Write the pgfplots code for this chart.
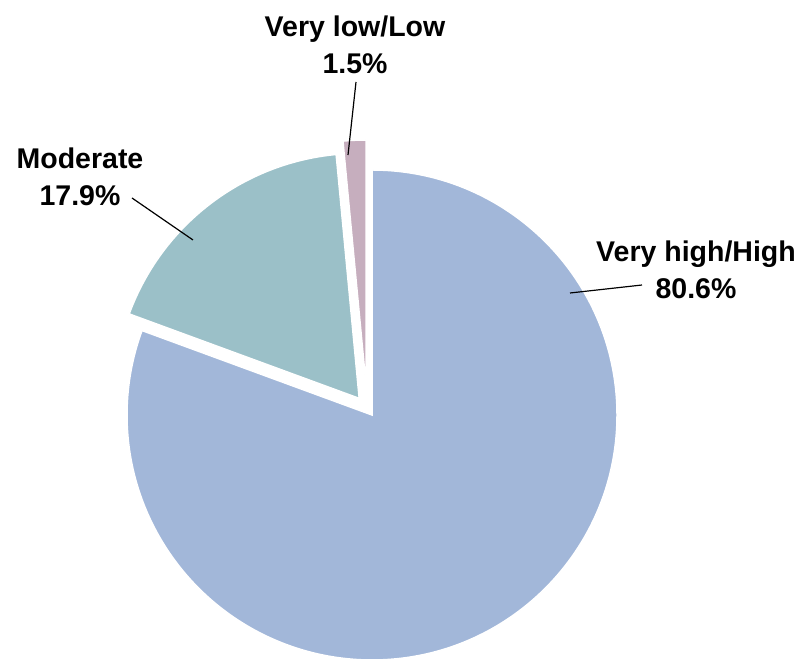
\documentclass[border=0pt]{standalone}
\usepackage{pgfplots}
\usepackage{pgfplotstable}
\pgfplotsset{compat=1.18}
\usepackage{fontspec}
\setmainfont{Liberation Sans}
\definecolor{cHigh}{HTML}{A2B7D9}
\definecolor{cMod}{HTML}{9BC0C8}
\definecolor{cLow}{HTML}{C6AEBE}

\pgfplotstableread{
label value
High 80.6
Moderate 17.9
Low 1.5
}\piedata

\begin{document}
\begin{tikzpicture}
\pgfplotstablegetelem{0}{value}\of\piedata \edef\vA{\pgfplotsretval}
\pgfplotstablegetelem{1}{value}\of\piedata \edef\vB{\pgfplotsretval}
\pgfplotstablegetelem{2}{value}\of\piedata \edef\vC{\pgfplotsretval}
\pgfmathsetmacro{\sA}{90}
\pgfmathsetmacro{\eA}{\sA-3.6*\vA}
\pgfmathsetmacro{\eB}{\eA-3.6*\vB}
\pgfmathsetmacro{\eC}{\eB-3.6*\vC}
\pgfmathsetmacro{\mB}{(\eA+\eB)/2}
\begin{axis}[hide axis, x=1pt, y=1pt, xmin=0, xmax=805, ymin=0, ymax=663,
  scale only axis, clip=false]
% Very high/High
\filldraw[fill=cHigh, draw=white, line width=1.5pt]
  (axis cs:372,248) -- ++(\sA:245pt) arc[start angle=\sA, end angle=\eA, radius=245pt] -- cycle;
% Moderate (exploded)
\filldraw[fill=cMod, draw=white, line width=1.5pt, shift={(\mB:21pt)}]
  (axis cs:372,248) -- ++(\eA:245pt) arc[start angle=\eA, end angle=\eB, radius=245pt] -- cycle;
% Very low/Low (exploded)
\filldraw[fill=cLow, draw=white, line width=1.5pt, shift={(-6pt,30pt)}]
  (axis cs:372,248) -- ++(\eB:245pt) arc[start angle=\eB, end angle=\eC, radius=245pt] -- cycle;
% leader lines
\draw[black, line width=1.2pt] (axis cs:356,581) -- (axis cs:348,508);
\draw[black, line width=1.2pt] (axis cs:132,465) -- (axis cs:193,423);
\draw[black, line width=1.2pt] (axis cs:642,378) -- (axis cs:570,370);
% labels
\node[align=center, inner sep=0pt, font=\fontsize{28.5}{37}\selectfont\bfseries]
  at (axis cs:355,618) {Very low/Low\\1.5\%};
\node[align=center, inner sep=0pt, font=\fontsize{28.5}{37}\selectfont\bfseries]
  at (axis cs:80,486) {Moderate\\17.9\%};
\node[align=center, inner sep=0pt, font=\fontsize{28.5}{37}\selectfont\bfseries]
  at (axis cs:696,393) {Very high/High\\80.6\%};
\end{axis}
\pgfresetboundingbox
\path (current axis.south west) rectangle (current axis.north east);
\end{tikzpicture}
\end{document}
